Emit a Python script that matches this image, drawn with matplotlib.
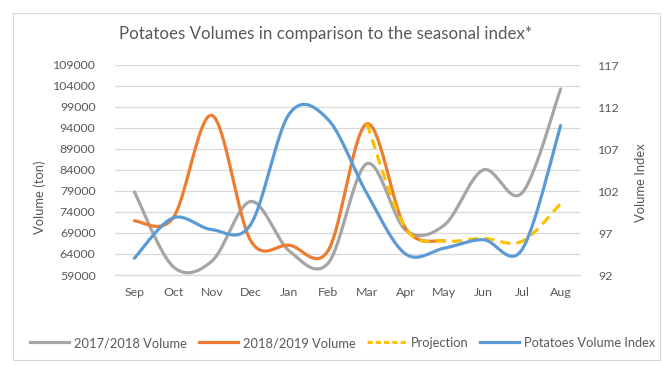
import numpy as np
import matplotlib
matplotlib.use("Agg")
import matplotlib.pyplot as plt
from matplotlib.patches import Rectangle
from matplotlib.lines import Line2D

plt.rcParams['font.family'] = ['Lato', 'DejaVu Sans']

months = ['Sep', 'Oct', 'Nov', 'Dec', 'Jan', 'Feb', 'Mar', 'Apr', 'May', 'Jun', 'Jul', 'Aug']
vol_1718 = [78800, 61000, 62300, 76500, 64700, 61800, 85500, 69700, 70900, 84000, 78500, 103300]
vol_1819 = [71900, 72600, 97000, 67200, 66100, 64800, 95000, 70100, 67100]          # Sep..May
projection = [95000, 70100, 67100, 67700, 67000, 76000]                              # Mar..Aug
proj_start = 6
volume_index = [94.0, 98.8, 97.4, 98.0, 111.2, 110.5, 101.7, 94.5, 95.2, 96.2, 95.0, 109.8]

left_ticks = list(range(59000, 109001, 5000))
right_ticks = list(range(92, 118, 5))

TEXT = '#595959'
GRID = '#D9D9D9'


def smooth(xs, ys, n=40):
    """Cubic Bezier smoothing through the points (Catmull-Rom tangents)."""
    xs = np.asarray(xs, float)
    ys = np.asarray(ys, float)
    px = np.concatenate([[xs[0]], xs, [xs[-1]]])
    py = np.concatenate([[ys[0]], ys, [ys[-1]]])
    out_x, out_y = [], []
    t = np.linspace(0, 1, n)
    for i in range(1, len(px) - 2):
        p0x, p1x, p2x, p3x = px[i - 1], px[i], px[i + 1], px[i + 2]
        p0y, p1y, p2y, p3y = py[i - 1], py[i], py[i + 1], py[i + 2]
        c1x, c1y = p1x + (p2x - p0x) / 6, p1y + (p2y - p0y) / 6
        c2x, c2y = p2x - (p3x - p1x) / 6, p2y - (p3y - p1y) / 6
        bx = (1 - t) ** 3 * p1x + 3 * (1 - t) ** 2 * t * c1x + 3 * (1 - t) * t ** 2 * c2x + t ** 3 * p2x
        by = (1 - t) ** 3 * p1y + 3 * (1 - t) ** 2 * t * c1y + 3 * (1 - t) * t ** 2 * c2y + t ** 3 * p2y
        out_x.extend(bx)
        out_y.extend(by)
    return np.array(out_x), np.array(out_y)


W, H = 665, 366
fig = plt.figure(figsize=(W / 100, H / 100), dpi=100)
fig.patch.set_facecolor('white')
fig.patches.append(Rectangle((12.5 / W, 1 - 360 / H), (660 - 12.5) / W, (360 - 12.5) / H,
                             transform=fig.transFigure, fill=False, edgecolor=GRID, lw=0.8))

ax = fig.add_axes([115 / W, 1 - 275 / H, 465 / W, 210 / H])
ax2 = ax.twinx()

x_all = np.arange(len(months))
lw = 2.3
sx, sy = smooth(x_all, vol_1718)
ax.plot(sx, sy, color='#A5A5A5', lw=lw, solid_capstyle='round', zorder=3)
sx, sy = smooth(x_all[:len(vol_1819)], vol_1819)
ax.plot(sx, sy, color='#ED7D31', lw=lw, solid_capstyle='round', zorder=4)
sx, sy = smooth(x_all[proj_start:proj_start + len(projection)], projection)
ax.plot(sx, sy, color='#FFC000', lw=lw, dashes=(3.2, 1.9), zorder=5)
sx, sy = smooth(x_all, volume_index)
ax2.plot(sx, sy, color='#5B9BD5', lw=lw, solid_capstyle='round', zorder=3)

ax.set_xlim(-0.5, len(months) - 0.5)
ax.set_ylim(left_ticks[0], left_ticks[-1])
ax.set_yticks(left_ticks)
ax.set_yticklabels([str(v) for v in left_ticks])
ax2.set_ylim(right_ticks[0], right_ticks[-1])
ax2.set_yticks(right_ticks)
ax.set_xticks(x_all)
ax.set_xticklabels(months)

ax.grid(axis='y', color=GRID, lw=0.9)
ax.set_axisbelow(True)
for a in (ax, ax2):
    for s in a.spines.values():
        s.set_visible(False)
    a.tick_params(length=0, labelsize=8.9, labelcolor=TEXT)
ax.spines['bottom'].set_visible(True)
ax.spines['bottom'].set_color(GRID)
ax.spines['bottom'].set_linewidth(0.9)
ax.tick_params(axis='y', pad=14)
ax.tick_params(axis='x', pad=9)
ax2.tick_params(axis='y', pad=13)

fig.text(326 / W, 1 - 34 / H, 'Potatoes Volumes in comparison to the seasonal index*',
         ha='center', va='center', fontsize=12.2, color=TEXT)
fig.text(40 / W, 1 - 197 / H, 'Volume (ton)', rotation=90, ha='center', va='center',
         fontsize=9.4, color=TEXT)
fig.text(641 / W, 1 - 183 / H, 'Volume Index', rotation=90, ha='center', va='center',
         fontsize=9.4, color=TEXT)

handles = [Line2D([], [], color='#A5A5A5', lw=lw),
           Line2D([], [], color='#ED7D31', lw=lw),
           Line2D([], [], color='#FFC000', lw=lw, dashes=(1.6, 1.0)),
           Line2D([], [], color='#5B9BD5', lw=lw)]
labels = ['2017/2018 Volume', '2018/2019 Volume', 'Projection', 'Potatoes Volume Index']
fig.legend(handles, labels, loc='center', bbox_to_anchor=(343 / W, 1 - 343 / H), ncol=4,
           frameon=False, fontsize=9.3, labelcolor=TEXT, handlelength=3.0,
           handletextpad=0.4, columnspacing=0.9)

fig.savefig('out.png', dpi=100, facecolor='white')
